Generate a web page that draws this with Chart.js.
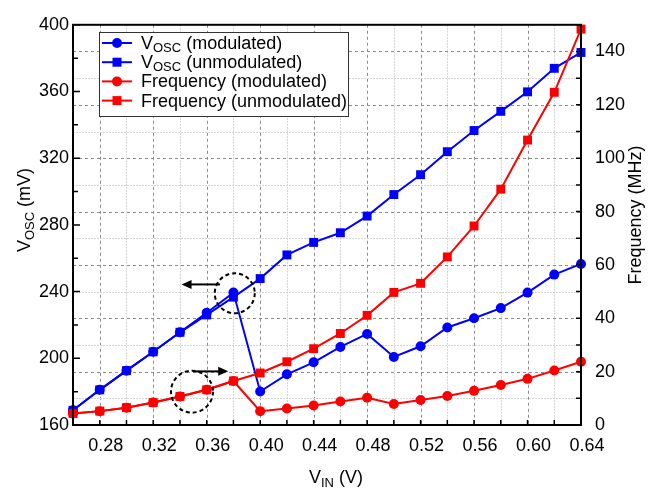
<!DOCTYPE html>
<html>
<head>
<meta charset="utf-8">
<script src="https://cdn.jsdelivr.net/npm/chart.js@4"></script>
<style>
  html, body { margin: 0; padding: 0; background: #fff; }
  canvas { display: block; }
</style>
</head>
<body>
<canvas id="chart" width="657" height="490"></canvas>
<script>
// input voltage V_IN (V)
const vin = [0.26, 0.28, 0.30, 0.32, 0.34, 0.36, 0.38, 0.40, 0.42, 0.44,
             0.46, 0.48, 0.50, 0.52, 0.54, 0.56, 0.58, 0.60, 0.62, 0.64];

// oscillation amplitude (mV)
const voscModulated   = [168.8, 181.1, 192.6, 203.9, 215.6, 227.3, 239.4, 180.1, 190.4, 197.6,
                         206.8, 214.6, 200.8, 207.2, 218.5, 224.0, 230.1, 239.4, 250.2, 256.6];
const voscUnmodulated = [168.8, 181.1, 192.6, 203.9, 215.6, 226.0, 236.7, 247.8, 262.0, 269.5,
                         275.3, 285.3, 298.2, 310.1, 323.9, 336.6, 348.1, 359.8, 373.9, 383.4];

// frequency (MHz)
const freqModulated   = [4.3, 5.2, 6.5, 8.4, 10.7, 13.2, 16.5, 5.2, 6.2, 7.3,
                         8.8, 10.2, 7.9, 9.4, 10.9, 12.8, 15.0, 17.3, 20.4, 23.7];
const freqUnmodulated = [4.3, 5.2, 6.5, 8.4, 10.7, 13.2, 16.5, 19.5, 23.7, 28.6,
                         34.3, 41.1, 49.7, 53.1, 63.0, 74.6, 88.4, 106.8, 124.7, 148.4];

const BLUE = '#0000ff';
const RED = '#ff0000';
const FONT = '"Liberation Sans", Arial, sans-serif';

const legendItems = [
  { main: 'V', sub: 'OSC', rest: ' (modulated)', color: BLUE, marker: 'circle' },
  { main: 'V', sub: 'OSC', rest: ' (unmodulated)', color: BLUE, marker: 'rect' },
  { main: 'Frequency (modulated)', sub: '', rest: '', color: RED, marker: 'circle' },
  { main: 'Frequency (unmodulated)', sub: '', rest: '', color: RED, marker: 'rect' },
];

// dashed circles and arrows, in data units
const circleNotes = [
  { x: 0.381, y: 239, axis: 'y', r: 20 },
  { x: 0.349, y: 12.5, axis: 'y1', r: 21 },
];
const arrowNotes = [
  { x0: 0.370, x1: 0.3412, y: 244.3, axis: 'y' },
  { x0: 0.350, x1: 0.3761, y: 20.1, axis: 'y1' },
];

const pts = (ys) => vin.map((v, i) => ({ x: v, y: ys[i] }));

function series(label, ys, color, style, axis, order) {
  return {
    label, data: pts(ys), yAxisID: axis, order,
    borderColor: color, backgroundColor: color,
    borderWidth: 2, pointStyle: style,
    pointRadius: style === 'rect' ? 6.3 : 5,
    pointBorderWidth: 0, tension: 0, clip: false,
  };
}

function subText(ctx, x, y, parts, align) {
  // draws main + subscript + rest, starting at x (or centred)
  ctx.font = '18px ' + FONT;
  const w1 = ctx.measureText(parts.main).width;
  const w3 = ctx.measureText(parts.rest).width;
  ctx.font = '13px ' + FONT;
  const w2 = ctx.measureText(parts.sub).width;
  let sx = align === 'center' ? x - (w1 + w2 + w3) / 2 : x;
  ctx.textAlign = 'left';
  ctx.font = '18px ' + FONT;
  ctx.fillText(parts.main, sx, y);
  ctx.font = '13px ' + FONT;
  ctx.fillText(parts.sub, sx + w1, y + 4);
  ctx.font = '18px ' + FONT;
  ctx.fillText(parts.rest, sx + w1 + w2, y);
}

function arrow(ctx, xa, xb, yy) {
  const dir = Math.sign(xb - xa);
  ctx.beginPath();
  ctx.moveTo(xa, yy);
  ctx.lineTo(xb - dir * 8, yy);
  ctx.stroke();
  ctx.beginPath();
  ctx.moveTo(xb, yy);
  ctx.lineTo(xb - dir * 10, yy - 4.5);
  ctx.lineTo(xb - dir * 10, yy + 4.5);
  ctx.closePath();
  ctx.fill();
}

const decor = {
  id: 'decor',
  beforeDatasetsDraw(chart) {
    const { ctx, chartArea: a, scales: { x, y1 } } = chart;
    ctx.save();
    ctx.lineWidth = 1;
    x.ticks.forEach(t => {
      const k = Math.round(t.value * 100);
      if (k <= 26 || k >= 64) return;
      const major = k % 4 === 0;
      const px = Math.round(x.getPixelForValue(t.value)) + 0.5;
      ctx.strokeStyle = major ? '#8c8c8c' : '#d4d4d4';
      ctx.setLineDash(major ? [3, 3] : [2, 1]);
      ctx.beginPath(); ctx.moveTo(px, a.top); ctx.lineTo(px, a.bottom); ctx.stroke();
    });
    y1.ticks.forEach(t => {
      if (t.value <= 0 || t.value >= 150) return;
      const major = t.value % 20 === 0;
      const py = Math.round(y1.getPixelForValue(t.value)) + 0.5;
      ctx.strokeStyle = major ? '#8c8c8c' : '#d4d4d4';
      ctx.setLineDash(major ? [3, 3] : [2, 1]);
      ctx.beginPath(); ctx.moveTo(a.left, py); ctx.lineTo(a.right, py); ctx.stroke();
    });
    ctx.restore();
  },
  afterDatasetsDraw(chart) {
    const { ctx, chartArea: a, scales } = chart;
    const { x, y, y1 } = scales;
    ctx.save();
    ctx.strokeStyle = '#000';
    ctx.fillStyle = '#000';

    // inner tick marks
    ctx.lineWidth = 1.5;
    ctx.beginPath();
    x.ticks.forEach(t => {
      const px = x.getPixelForValue(t.value);
      ctx.moveTo(px, a.bottom); ctx.lineTo(px, a.bottom - 5);
    });
    y.ticks.forEach(t => {
      const py = y.getPixelForValue(t.value);
      ctx.moveTo(a.left, py); ctx.lineTo(a.left + (t.value % 40 === 0 ? 7 : 5), py);
    });
    y1.ticks.forEach(t => {
      const py = y1.getPixelForValue(t.value);
      ctx.moveTo(a.right, py); ctx.lineTo(a.right - 5, py);
    });
    ctx.stroke();

    // frame
    ctx.lineWidth = 2;
    ctx.strokeRect(a.left, a.top, a.right - a.left, a.bottom - a.top);

    // dashed circles
    ctx.setLineDash([4, 3]);
    circleNotes.forEach(c => {
      ctx.beginPath();
      ctx.arc(x.getPixelForValue(c.x), scales[c.axis].getPixelForValue(c.y), c.r, 0, Math.PI * 2);
      ctx.stroke();
    });
    ctx.setLineDash([]);

    // arrows
    arrowNotes.forEach(n => {
      arrow(ctx, x.getPixelForValue(n.x0), x.getPixelForValue(n.x1), scales[n.axis].getPixelForValue(n.y));
    });

    // legend
    const lx = 99.5, ly = 32.5, lw = 249, lh = 84;
    ctx.fillStyle = '#fff';
    ctx.fillRect(lx, ly, lw, lh);
    ctx.lineWidth = 1;
    ctx.strokeStyle = '#333';
    ctx.strokeRect(lx, ly, lw, lh);
    legendItems.forEach((it, i) => {
      const ry = 43 + i * 19.2;
      ctx.strokeStyle = it.color;
      ctx.fillStyle = it.color;
      ctx.lineWidth = 2;
      ctx.beginPath(); ctx.moveTo(102, ry); ctx.lineTo(132, ry); ctx.stroke();
      if (it.marker === 'circle') {
        ctx.beginPath(); ctx.arc(117, ry, 5, 0, Math.PI * 2); ctx.fill();
      } else {
        ctx.fillRect(112.5, ry - 4.5, 9, 9);
      }
      ctx.fillStyle = '#000';
      ctx.textBaseline = 'middle';
      subText(ctx, 141, ry + 1, it, 'left');
    });

    // axis titles
    ctx.fillStyle = '#000';
    ctx.textBaseline = 'alphabetic';
    subText(ctx, 336, 483, { main: 'V', sub: 'IN', rest: ' (V)' }, 'center');

    ctx.save();
    ctx.translate(30, 210);
    ctx.rotate(-Math.PI / 2);
    subText(ctx, 0, 0, { main: 'V', sub: 'OSC', rest: ' (mV)' }, 'center');
    ctx.restore();

    ctx.save();
    ctx.translate(641, 215);
    ctx.rotate(-Math.PI / 2);
    ctx.font = '18px ' + FONT;
    ctx.textAlign = 'center';
    ctx.fillText('Frequency (MHz)', 0, 0);
    ctx.restore();

    ctx.restore();
  }
};

const tickFont = { family: FONT, size: 18 };
const noGrid = { display: false, drawTicks: false };

new Chart(document.getElementById('chart'), {
  type: 'line',
  data: {
    datasets: [
      series('Frequency (unmodulated)', freqUnmodulated, RED, 'rect', 'y1', 0),
      series('Frequency (modulated)', freqModulated, RED, 'circle', 'y1', 1),
      series('VOSC (unmodulated)', voscUnmodulated, BLUE, 'rect', 'y', 2),
      series('VOSC (modulated)', voscModulated, BLUE, 'circle', 'y', 3),
    ]
  },
  options: {
    responsive: false,
    animation: false,
    layout: { padding: { top: 15, left: 0, right: 0, bottom: 0 } },
    plugins: { legend: { display: false }, tooltip: { enabled: false } },
    scales: {
      x: {
        type: 'linear', min: 0.26, max: 0.64,
        grid: noGrid, border: { display: false },
        ticks: {
          stepSize: 0.02, autoSkip: false, maxRotation: 0,
          color: '#000', font: tickFont, padding: 10, labelOffset: 6,
          callback: v => Math.round(v * 100) % 4 === 0 ? v.toFixed(2) : ''
        },
        afterFit: s => { s.height = 65; }
      },
      y: {
        position: 'left', min: 160, max: 400,
        grid: noGrid, border: { display: false },
        ticks: {
          stepSize: 20, autoSkip: false, color: '#000', font: tickFont, padding: 4,
          callback: v => v % 40 === 0 ? String(v) : ''
        },
        afterFit: s => { s.width = 73; }
      },
      y1: {
        position: 'right', min: 0, max: 150,
        grid: noGrid, border: { display: false },
        ticks: {
          stepSize: 10, autoSkip: false, color: '#000', font: tickFont, padding: 14,
          callback: v => v % 20 === 0 ? String(v) : ''
        },
        afterFit: s => { s.width = 76; }
      }
    }
  },
  plugins: [decor]
});
</script>
</body>
</html>
